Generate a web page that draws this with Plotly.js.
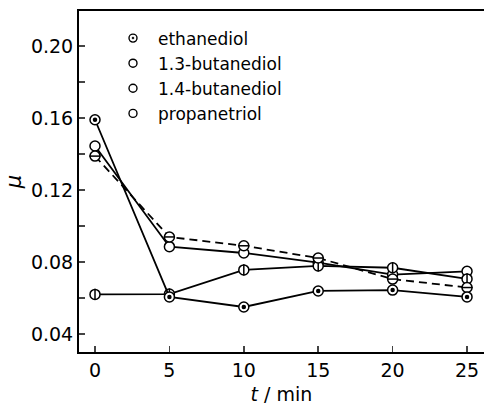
<!DOCTYPE html>
<html><head><meta charset="utf-8">
<script src="https://cdn.plot.ly/plotly-3.0.1.min.js"></script>
<style>html,body{margin:0;padding:0;background:#fff}#chart{width:484px;height:410px}</style>
</head><body><div id="chart"></div>
<script>
const times = [0, 5, 10, 15, 20, 25];
const ethanediol = [0.159, 0.0606, 0.055, 0.0639, 0.0644, 0.0606];
const butanediol13 = [0.1444, 0.0885, 0.085, 0.0796, 0.073, 0.0748];
const butanediol14 = [0.1388, 0.0939, 0.089, 0.0822, 0.0705, 0.0658];
const propanetriol = [0.062, 0.0622, 0.0756, 0.0778, 0.0768, 0.0706];
const seriesNames = ['ethanediol', '1.3-butanediol', '1.4-butanediol', 'propanetriol'];
const xTicks = [0, 5, 10, 15, 20, 25];
const yTicks = [0.04, 0.08, 0.12, 0.16, 0.20];

const F = 'DejaVu Sans, Liberation Sans, sans-serif';
const traces = [];
function addSeries(y, dash, overlay, osize) {
  traces.push({x: times, y: y, mode: 'lines+markers', line: {color: 'black', width: 1.8, dash: dash},
    marker: {symbol: 'circle', size: 10, color: 'white', line: {color: 'black', width: 1.5}},
    showlegend: false, hoverinfo: 'none'});
  if (overlay) traces.push({x: times, y: y, mode: 'markers',
    marker: {symbol: overlay, size: osize, color: 'black', line: {color: 'black', width: 1.5}},
    showlegend: false, hoverinfo: 'none'});
}
addSeries(butanediol13, 'solid');
addSeries(propanetriol, 'solid', 'line-ns', 8);
addSeries(butanediol14, '8px,5px', 'line-ew', 8);
addSeries(ethanediol, 'solid', 'circle', 3);
const legSyms = ['circle-open-dot', 'circle-open', 'circle-open', 'circle-open'];
seriesNames.forEach((n, i) => traces.push({x: [null], y: [null], mode: 'markers', name: n,
  marker: {symbol: legSyms[i], size: 8, color: 'black', line: {color: 'black', width: 1.4}}}));

const layout = {
  width: 484, height: 410, margin: {l: 79, r: 0, t: 11, b: 58},
  paper_bgcolor: 'white', plot_bgcolor: 'white', font: {family: F, color: 'black', size: 19},
  showlegend: true,
  legend: {x: 0.0716, y: 0.972, xanchor: 'left', yanchor: 'top', bgcolor: 'rgba(0,0,0,0)',
    font: {family: F, size: 17, color: 'black'}, tracegroupgap: 0, itemwidth: 40},
  xaxis: {range: [-1.075, 26.14], tickvals: xTicks, ticktext: xTicks.map(String), ticks: 'inside', ticklen: 6, tickwidth: 1.5,
    showline: true, linewidth: 2, linecolor: 'black', mirror: true, showgrid: false, zeroline: false,
    tickfont: {size: 19}, title: {text: '<i>t</i> / min', font: {size: 19}, standoff: 8}},
  yaxis: {range: [0.03, 0.2194], tickvals: yTicks, ticktext: yTicks.map(v => v.toFixed(2)), ticks: 'inside', ticklen: 6, tickwidth: 1.5,
    minor: {tickvals: [0.06, 0.10, 0.14, 0.18], ticks: 'inside', ticklen: 6, tickwidth: 1.5, showgrid: false},
    showline: true, linewidth: 2, linecolor: 'black', showgrid: false, zeroline: false,
    tickfont: {size: 19}, title: {text: '<i>μ</i>', font: {size: 21}, standoff: 4}}
};
Plotly.newPlot('chart', traces, layout, {displayModeBar: false, staticPlot: true});
</script></body></html>
